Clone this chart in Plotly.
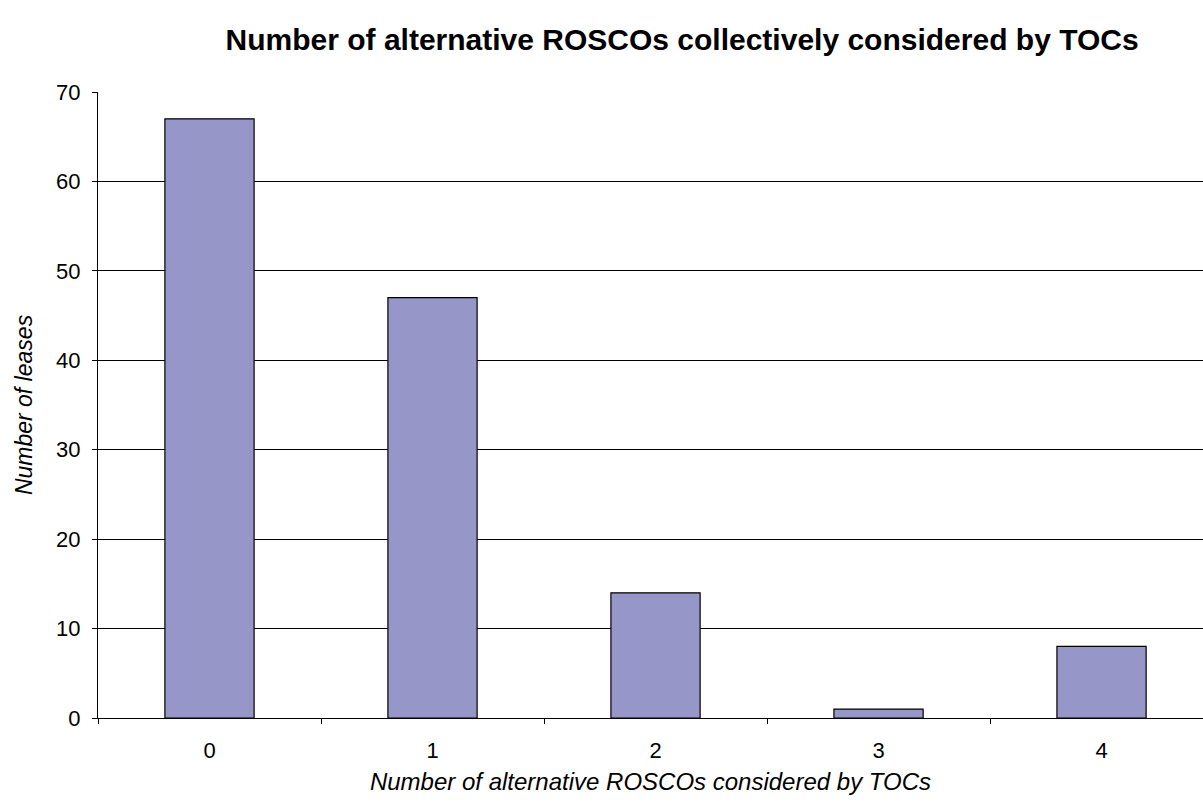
import plotly.graph_objects as go

# Leases by number of alternative ROSCOs considered
categories = ["0", "1", "2", "3", "4"]
leases = [67, 47, 14, 1, 8]
y_ticks = [0, 10, 20, 30, 40, 50, 60, 70]

FONT = "Arial, Liberation Sans, sans-serif"

fig = go.Figure(
    go.Bar(
        x=categories,
        y=leases,
        width=0.4,
        marker=dict(color="#9696C9", line=dict(color="#000000", width=1.2)),
        hoverinfo="x+y",
    )
)

fig.update_layout(
    width=1203,
    height=806,
    margin=dict(l=98, r=0, t=92, b=88),
    paper_bgcolor="white",
    plot_bgcolor="white",
    showlegend=False,
    font=dict(family=FONT, size=22, color="#000000"),
    title=dict(
        text="<b>Number of alternative ROSCOs collectively considered by TOCs</b>",
        font=dict(family=FONT, size=30, color="#000000"),
        xref="container",
        x=0.567,
        xanchor="center",
        yref="container",
        y=0.951,
        yanchor="middle",
    ),
    xaxis=dict(
        type="category",
        range=[-0.5, 4.455],
        tickson="boundaries",
        ticks="outside",
        ticklen=5,
        tickcolor="#000000",
        showgrid=False,
        showline=True,
        linecolor="#000000",
        linewidth=1,
        tickfont=dict(size=22),
        ticklabelstandoff=13,
        title=dict(
            text="<i>Number of alternative ROSCOs considered by TOCs</i>",
            font=dict(size=24),
            standoff=10,
        ),
    ),
    yaxis=dict(
        range=[0, 70],
        tickvals=y_ticks,
        ticks="outside",
        ticklen=5,
        tickcolor="#000000",
        showgrid=True,
        gridcolor="#000000",
        gridwidth=1,
        showline=True,
        linecolor="#000000",
        linewidth=1,
        zeroline=False,
        tickfont=dict(size=22),
        ticklabelstandoff=7,
        title=dict(text="<i>Number of leases</i>", font=dict(size=23), standoff=17),
    ),
)

fig.write_html("out.html")
